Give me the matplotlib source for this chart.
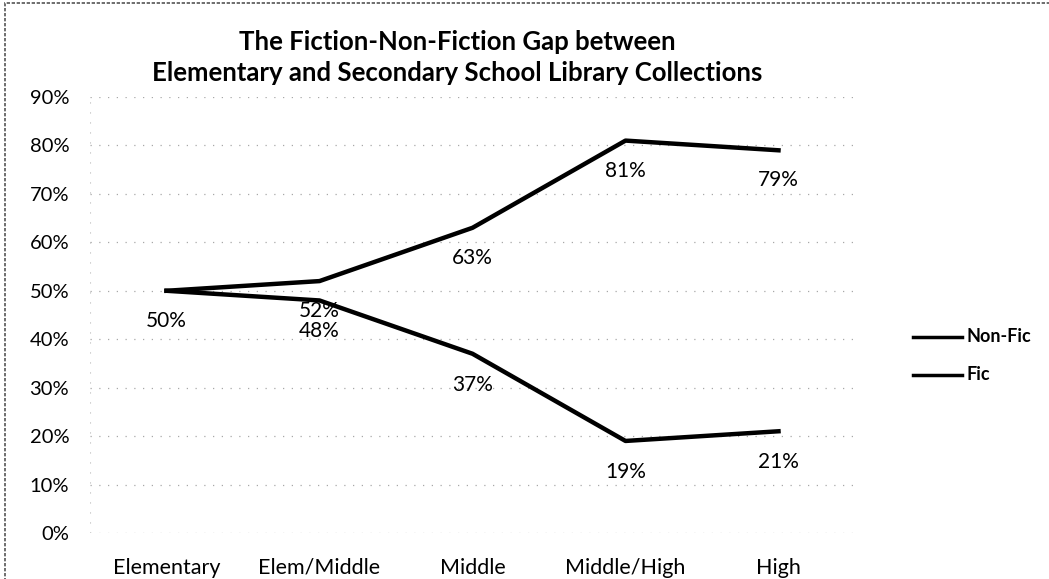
import matplotlib
matplotlib.use("Agg")
import matplotlib.pyplot as plt
from matplotlib.lines import Line2D
from matplotlib.patches import Rectangle

plt.rcParams["font.family"] = ["Lato", "DejaVu Sans"]

# school levels and share of collection (%)
levels = ["Elementary", "Elem/Middle", "Middle", "Middle/High", "High"]
non_fic = [50, 52, 63, 81, 79]
fic = [50, 48, 37, 19, 21]
y_ticks = [0, 10, 20, 30, 40, 50, 60, 70, 80, 90]

W, H = 1049, 579
fig = plt.figure(figsize=(W / 100, H / 100), dpi=100)
ax = fig.add_axes([90 / W, (H - 533) / H, (855 - 90) / W, (533 - 97) / H])

x = list(range(len(levels)))
ax.plot(x, non_fic, color="black", lw=3.2, solid_joinstyle="round", label="Non-Fic", zorder=3)
ax.plot(x, fic, color="black", lw=3.2, solid_joinstyle="round", label="Fic", zorder=3)

# value labels sit just under each point
for xi, v in zip(x, non_fic):
    ax.annotate(f"{v}%", (xi, v), xytext=(0, -30), textcoords="offset pixels",
                ha="center", va="center", fontsize=15)
for xi, v in zip(x[1:], fic[1:]):
    ax.annotate(f"{v}%", (xi, v), xytext=(0, -31), textcoords="offset pixels",
                ha="center", va="center", fontsize=15)

ax.set_xlim(-0.5, len(levels) - 0.5)
ax.set_ylim(0, 90)
ax.set_yticks(y_ticks)
ax.set_yticklabels([f"{t}%" for t in y_ticks], fontsize=14.5)
ax.set_xticks(x)
ax.set_xticklabels(levels, fontsize=15.5)
ax.tick_params(axis="y", length=0, pad=15)
ax.tick_params(axis="x", length=0, pad=18)
for s in ax.spines.values():
    s.set_visible(False)
ax.yaxis.grid(True, linestyle=(0, (1, 6)), color="#a8a8a8", lw=0.9)
ax.axvline(-0.5, linestyle=(0, (1, 8)), color="#b8b8b8", lw=0.8)

fig.text(457 / W, 1 - 42 / H, "The Fiction-Non-Fiction Gap between",
         ha="center", va="center", fontsize=18.5, fontweight="bold")
fig.text(457 / W, 1 - 73 / H, "Elementary and Secondary School Library Collections",
         ha="center", va="center", fontsize=18.5, fontweight="bold")

# legend drawn by hand at the right of the plot
for label, yy in [("Non-Fic", 337), ("Fic", 375)]:
    fig.add_artist(Line2D([913 / W, 962 / W], [1 - yy / H, 1 - yy / H],
                          color="black", lw=2.5, transform=fig.transFigure))
    fig.text(967 / W, 1 - yy / H, label, ha="left", va="center",
             fontsize=13, fontweight="bold")

# chart area border (left and top edges)
fig.add_artist(Rectangle((5 / W, -0.2), 1.2, 1 - 3 / H + 0.2, fill=False,
                         edgecolor="#555555", lw=1.2, linestyle=(0, (2, 1)),
                         transform=fig.transFigure))

fig.savefig("out.png", dpi=100)
